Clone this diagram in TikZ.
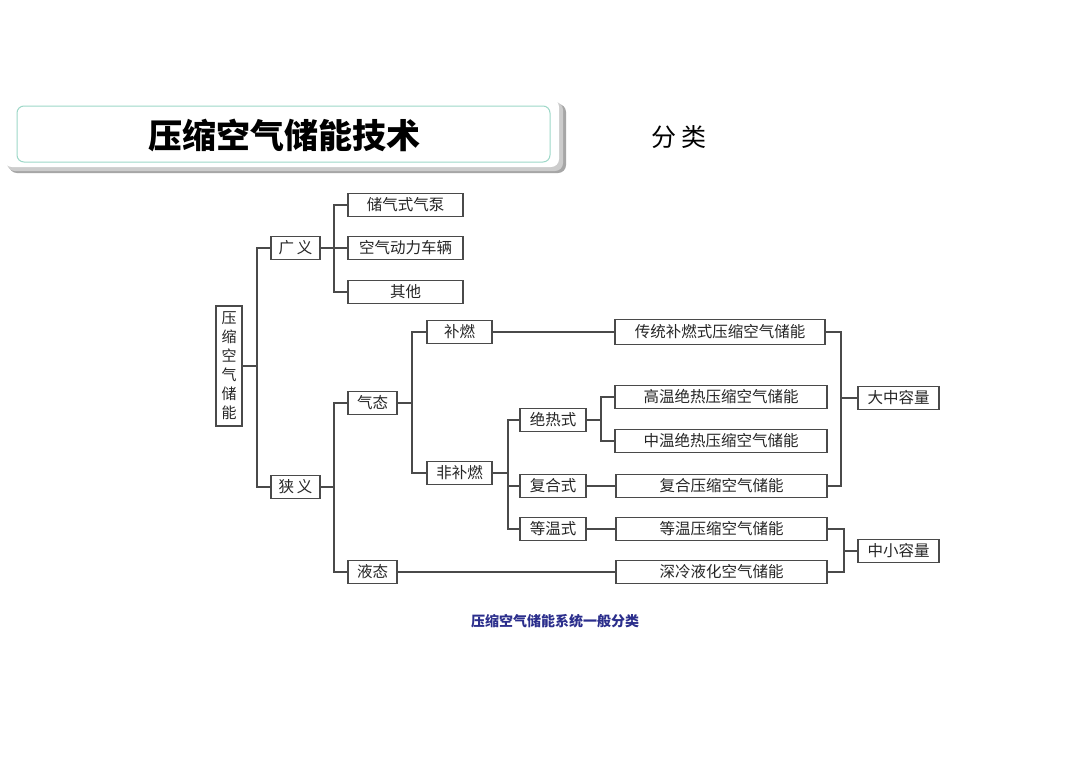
\documentclass[tikz,border=0pt]{standalone}
\usepackage{fontspec}
\newfontfamily\cjk{Noto Sans CJK SC}
\usetikzlibrary{positioning}
\definecolor{lineC}{HTML}{4A4A4A}
\definecolor{tealC}{HTML}{9ED8C8}
\definecolor{capC}{HTML}{2B2E8C}
\tikzset{
  box/.style={draw=lineC, line width=1.3pt, fill=white, inner sep=0pt, minimum height=23pt, font=\cjk\fontsize{15.5}{18}\selectfont, text=black!85},
  conn/.style={draw=lineC, line width=1.5pt},
}
\begin{document}
\begin{tikzpicture}[x=1pt,y=-1pt]
\useasboundingbox (0,0) rectangle (1080,764);
\fill[white] (0,0) rectangle (1080,764);
% title box
\fill[black!35, rounded corners=8pt] (9,104) rectangle (566,173);
\fill[black!20, rounded corners=8pt] (7,102) rectangle (563,171);
\fill[white, rounded corners=8pt] (4,99) rectangle (559,167);
\draw[tealC, line width=1pt, rounded corners=7pt] (17,106) rectangle (550,162);
\node (title) at (284,135) {\cjk\bfseries\fontsize{34}{38}\selectfont 压缩空气储能技术};
\node (fenlei) at (679,137) {\cjk\fontsize{25}{28}\selectfont 分\,类};
% tree nodes
\node[box, minimum width=26pt, minimum height=120pt, align=center, font=\cjk\fontsize{15}{19}\selectfont] (root) at (229,366) {压\\缩\\空\\气\\储\\能};
\node[box, minimum width=49pt] (gy) at (295.5,248) {广\,义};
\node[box, minimum width=49pt] (xy) at (295.5,487) {狭\,义};
\node[box, minimum width=115pt] (a1) at (405.5,205) {储气式气泵};
\node[box, minimum width=115pt] (a2) at (405.5,248) {空气动力车辆};
\node[box, minimum width=115pt] (a3) at (405.5,292) {其他};
\node[box, minimum width=49pt] (qt) at (372.5,403) {气态};
\node[box, minimum width=49pt] (yt) at (372.5,572) {液态};
\node[box, minimum width=65pt] (br) at (459.5,332) {补燃};
\node[box, minimum width=65pt] (fbr) at (459.5,473) {非补燃};
\node[box, minimum width=66pt] (jr) at (553,420) {绝热式};
\node[box, minimum width=66pt] (fh) at (553,486) {复合式};
\node[box, minimum width=66pt] (dw) at (553,529) {等温式};
\node[box, minimum width=210pt, minimum height=25pt] (c1) at (720,332) {传统补燃式压缩空气储能};
\node[box, minimum width=212pt] (c2) at (721,397) {高温绝热压缩空气储能};
\node[box, minimum width=212pt] (c3) at (721,441) {中温绝热压缩空气储能};
\node[box, minimum width=211pt] (c4) at (721.5,486) {复合压缩空气储能};
\node[box, minimum width=211pt] (c5) at (721.5,529) {等温压缩空气储能};
\node[box, minimum width=211pt] (c6) at (721.5,572) {深冷液化空气储能};
\node[box, minimum width=81pt] (dz) at (898.5,398) {大中容量};
\node[box, minimum width=81pt] (zx) at (898.5,551) {中小容量};
% junctions
\coordinate (j0) at (257,366);
\coordinate (j1) at (334,248);
\coordinate (j2) at (334,487);
\coordinate (j3) at (412,403);
\coordinate (j4) at (508,473);
\coordinate (j5) at (601,420);
\coordinate (j6) at (841,398);
\coordinate (j7) at (844,551);
% connectors
\draw[conn] (root.east) -- (j0);
\draw[conn] (gy.west) -| (j0) |- (xy.west);
\draw[conn] (gy.east) -- (j1);
\draw[conn] (a1.west) -| (j1) |- (a3.west);
\draw[conn] (a2.west) -- (a2.west -| j1);
\draw[conn] (xy.east) -- (j2);
\draw[conn] (qt.west) -| (j2) |- (yt.west);
\draw[conn] (qt.east) -- (j3);
\draw[conn] (br.west) -| (j3) |- (fbr.west);
\draw[conn] (fbr.east) -- (j4);
\draw[conn] (jr.west) -| (j4) |- (dw.west);
\draw[conn] (fh.west) -- (fh.west -| j4);
\draw[conn] (br.east) -- (c1.west);
\draw[conn] (jr.east) -- (j5);
\draw[conn] (c2.west) -| (j5) |- (c3.west);
\draw[conn] (fh.east) -- (c4.west);
\draw[conn] (dw.east) -- (c5.west);
\draw[conn] (yt.east) -- (c6.west);
\draw[conn] (c1.east) -| (j6) |- (c4.east);
\draw[conn] (j6) -- (dz.west);
\draw[conn] (c5.east) -| (j7) |- (c6.east);
\draw[conn] (j7) -- (zx.west);
% caption
\node[text=capC] (cap) at (555,621) {\cjk\bfseries\fontsize{14}{16}\selectfont 压缩空气储能系统一般分类};
\end{tikzpicture}
\end{document}
